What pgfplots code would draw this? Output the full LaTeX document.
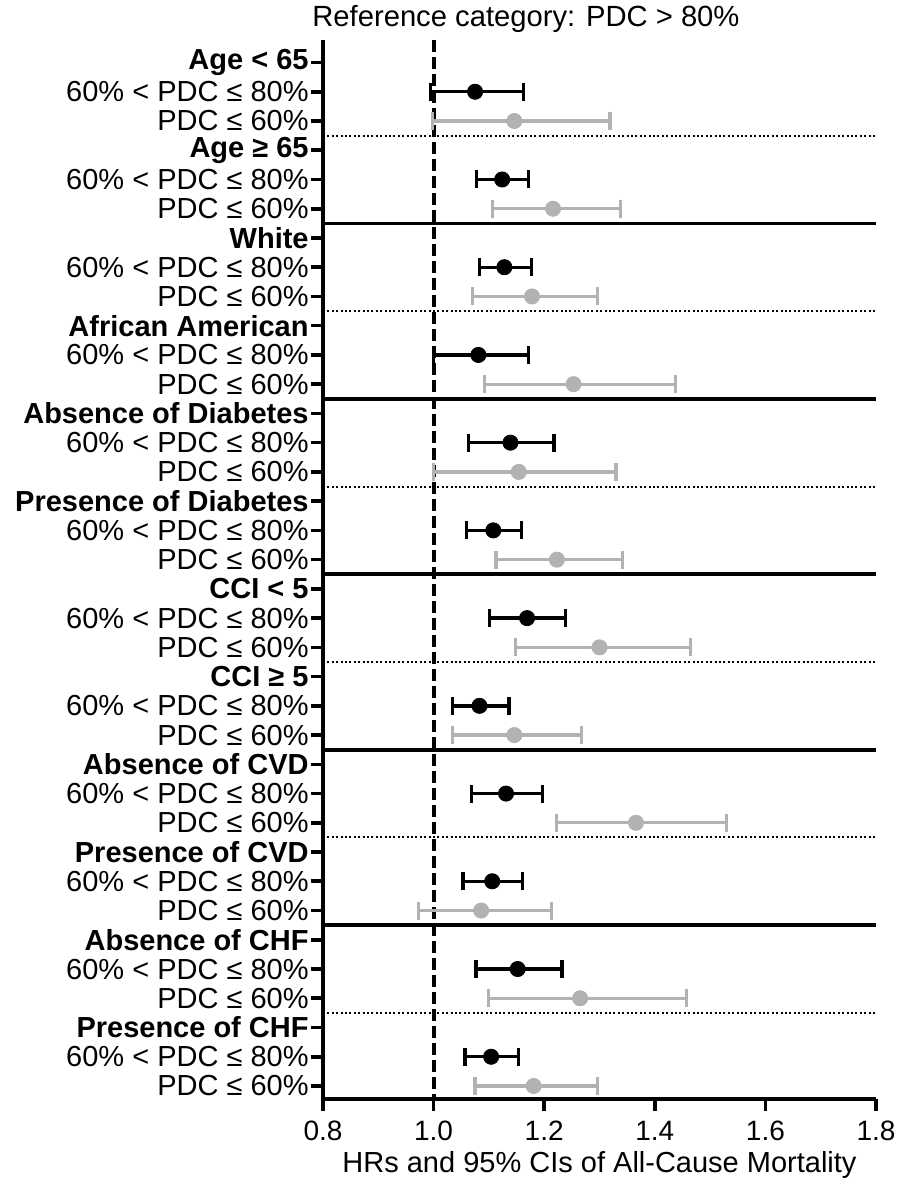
\documentclass[border=0pt]{standalone}
\usepackage{fontspec}
\setmainfont{Liberation Sans}
\usepackage{pgfplots}
\pgfplotsset{compat=1.18}
\usepackage{pgfplotstable}

\definecolor{ciGray}{RGB}{178,178,178}

% 60% < PDC <= 80%
\pgfplotstableread{
y   hr    lo    hi
-1  1.075 0.994 1.163
-4  1.124 1.078 1.172
-7  1.128 1.083 1.177
-10 1.081 1.000 1.172
-13 1.139 1.063 1.218
-16 1.108 1.060 1.159
-19 1.169 1.101 1.239
-22 1.083 1.034 1.136
-25 1.131 1.069 1.197
-28 1.106 1.053 1.161
-31 1.152 1.077 1.232
-34 1.104 1.057 1.154
}\midpdc

% PDC <= 60%
\pgfplotstableread{
y   hr    lo    hi
-2  1.146 0.998 1.319
-5  1.216 1.107 1.338
-8  1.178 1.071 1.297
-11 1.253 1.092 1.437
-14 1.154 1.000 1.330
-17 1.223 1.113 1.342
-20 1.300 1.148 1.465
-23 1.146 1.034 1.268
-26 1.366 1.222 1.529
-29 1.086 0.973 1.213
-32 1.265 1.099 1.457
-35 1.181 1.075 1.297
}\lowpdc

\newcommand\pa{60\% < PDC ≤ 80\%}
\newcommand\pb{PDC ≤ 60\%}

\begin{document}
\begin{tikzpicture}
\useasboundingbox (-161.5pt,-42.5pt) rectangle (289pt,549.5pt);
\begin{axis}[
    width=276.5pt, height=529.5pt,
    scale only axis,
    font=\fontsize{14.5}{17}\selectfont,
    xmin=0.8, xmax=1.8,
    ymin=-35.445, ymax=0.77,
    axis x line*=bottom,
    axis y line*=left,
    axis line style={line width=2pt},
    xtick={0.8,1.0,...,1.8},
    xticklabel style={font=\fontsize{14}{16}\selectfont, yshift=-1.5pt,
        /pgf/number format/.cd, fixed, fixed zerofill, precision=1, assume math mode=true},
    ytick={0,-1,...,-35},
    yticklabels={
        \textbf{Age < 65},\pa,\pb,
        \textbf{Age ≥ 65},\pa,\pb,
        \textbf{White},\pa,\pb,
        \textbf{African American},\pa,\pb,
        \textbf{Absence of Diabetes},\pa,\pb,
        \textbf{Presence of Diabetes},\pa,\pb,
        \textbf{CCI < 5},\pa,\pb,
        \textbf{CCI ≥ 5},\pa,\pb,
        \textbf{Absence of CVD},\pa,\pb,
        \textbf{Presence of CVD},\pa,\pb,
        \textbf{Absence of CHF},\pa,\pb,
        \textbf{Presence of CHF},\pa,\pb},
    tick align=outside,
    major tick length=6pt,
    tick style={line width=1.8pt, black},
    yticklabel style={anchor=east, inner sep=1pt},
    xlabel={HRs and 95\% CIs of All-Cause Mortality},
    xlabel style={at={(axis description cs:0.5,0)}, anchor=base, yshift=-36.5pt},
    clip=false,
]
% separators between groups
\addplot[line width=1.8pt, black] coordinates {(0.8,-5.5) (1.8,-5.5)};
\addplot[line width=1.8pt, black] coordinates {(0.8,-11.5) (1.8,-11.5)};
\addplot[line width=1.8pt, black] coordinates {(0.8,-17.5) (1.8,-17.5)};
\addplot[line width=1.8pt, black] coordinates {(0.8,-23.5) (1.8,-23.5)};
\addplot[line width=1.8pt, black] coordinates {(0.8,-29.5) (1.8,-29.5)};
\addplot[line width=1pt, black, dash pattern=on 1pt off 1.2pt] coordinates {(0.8,-2.5) (1.8,-2.5)};
\addplot[line width=1pt, black, dash pattern=on 1pt off 1.2pt] coordinates {(0.8,-8.5) (1.8,-8.5)};
\addplot[line width=1pt, black, dash pattern=on 1pt off 1.2pt] coordinates {(0.8,-14.5) (1.8,-14.5)};
\addplot[line width=1pt, black, dash pattern=on 1pt off 1.2pt] coordinates {(0.8,-20.5) (1.8,-20.5)};
\addplot[line width=1pt, black, dash pattern=on 1pt off 1.2pt] coordinates {(0.8,-26.5) (1.8,-26.5)};
\addplot[line width=1pt, black, dash pattern=on 1pt off 1.2pt] coordinates {(0.8,-32.5) (1.8,-32.5)};
% reference line HR = 1
\addplot[line width=2pt, black, dash pattern=on 6pt off 2.5pt] coordinates {(1,0.77) (1,-35.445)};

\addplot[only marks, mark=*, mark size=3.8pt, ciGray,
    error bars/.cd, x dir=both, x explicit,
    error bar style={line width=1.6pt, ciGray},
    error mark options={rotate=90, mark size=4.5pt, line width=1.6pt, ciGray}]
    table[x=hr, y=y, x error plus expr=\thisrow{hi}-\thisrow{hr}, x error minus expr=\thisrow{hr}-\thisrow{lo}] {\lowpdc};

\addplot[only marks, mark=*, mark size=3.8pt, black,
    error bars/.cd, x dir=both, x explicit,
    error bar style={line width=1.7pt, black},
    error mark options={rotate=90, mark size=4.5pt, line width=1.7pt, black}]
    table[x=hr, y=y, x error plus expr=\thisrow{hi}-\thisrow{hr}, x error minus expr=\thisrow{hr}-\thisrow{lo}] {\midpdc};

\node[anchor=base, font=\fontsize{14.6}{17}\selectfont, yshift=6.5pt] at (rel axis cs:0.367,1) {Reference category: PDC > 80\%};
\end{axis}
\end{tikzpicture}
\end{document}
